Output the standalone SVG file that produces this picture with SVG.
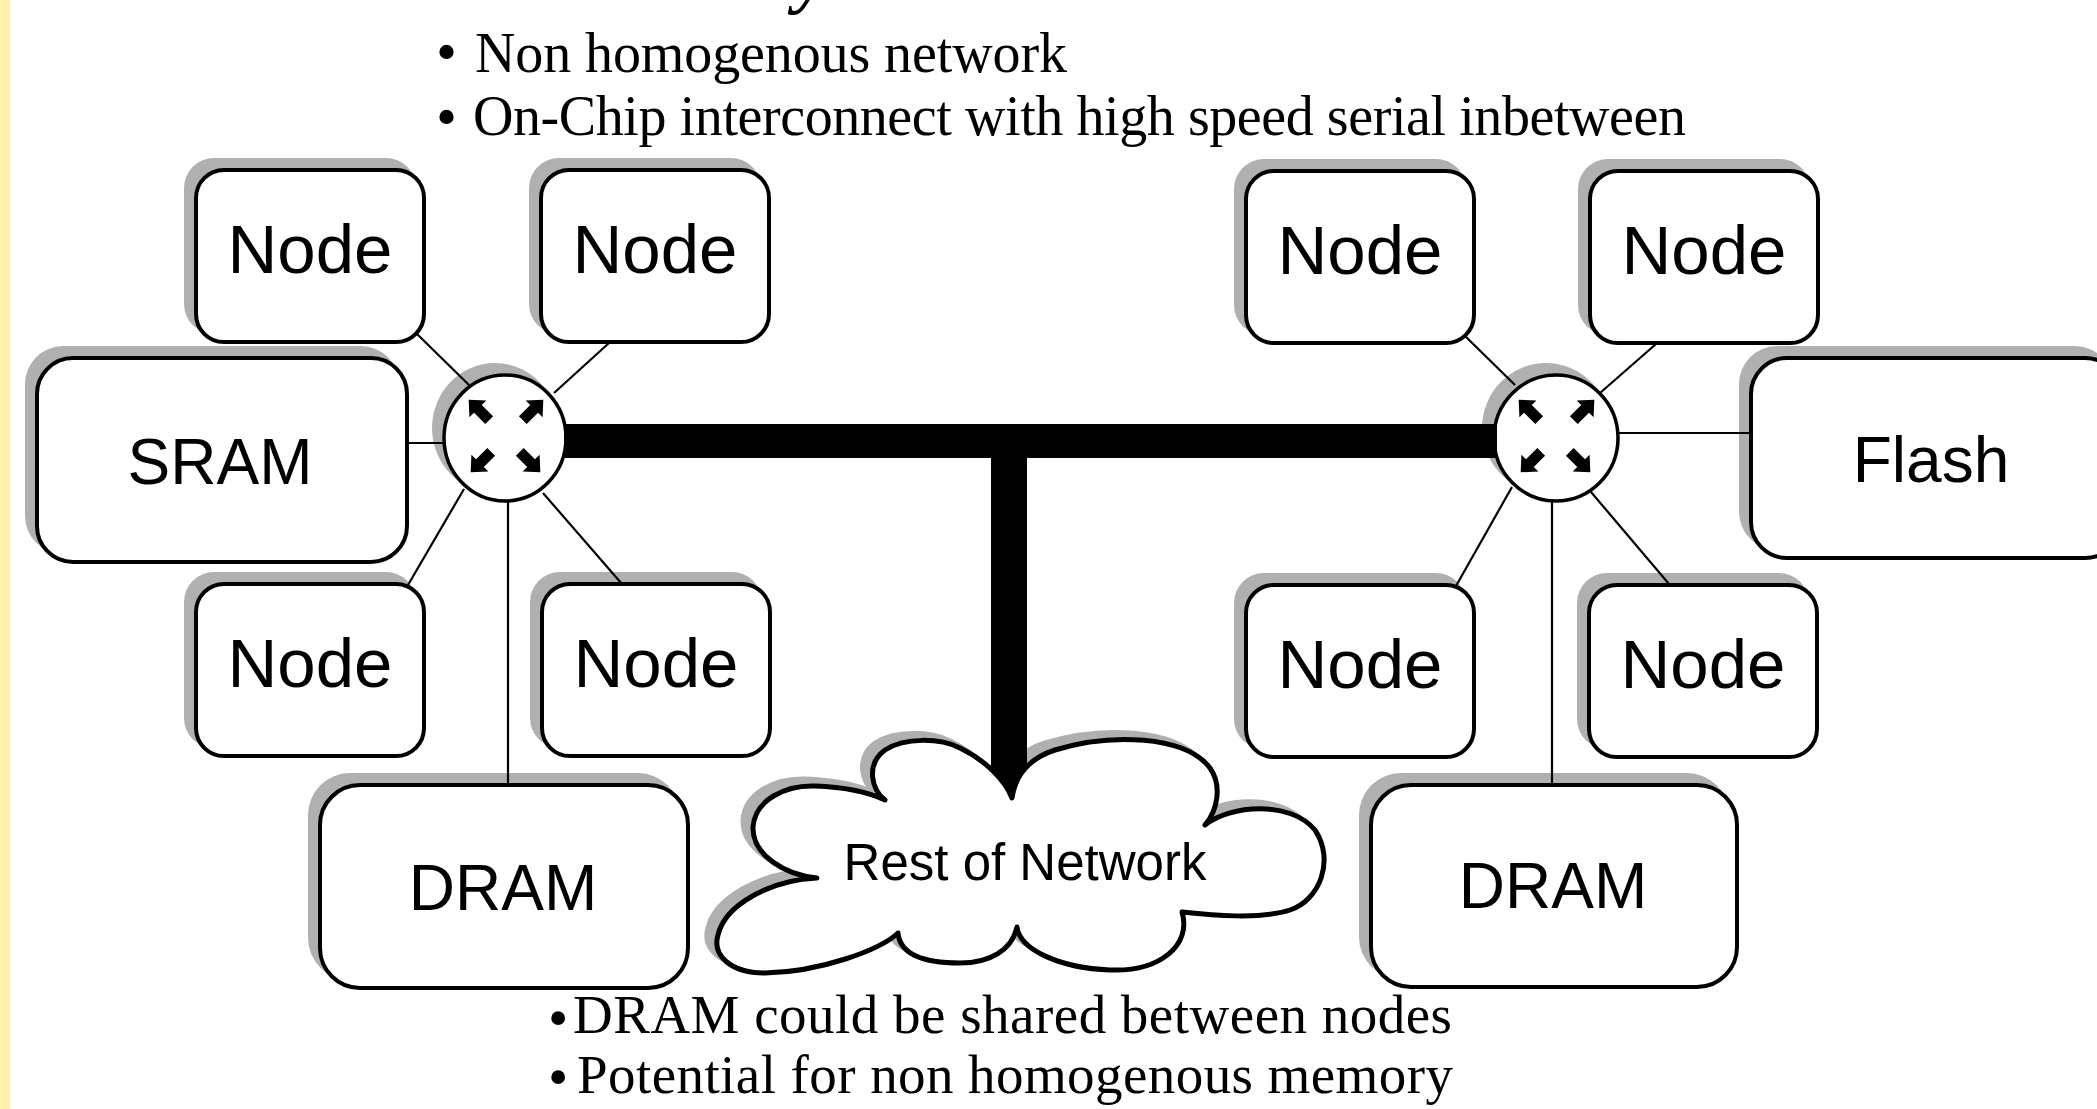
<svg xmlns="http://www.w3.org/2000/svg" width="2097" height="1109" viewBox="0 0 2097 1109">
<style>
.sh{fill:#b0b0b0}
.box{fill:#fff;stroke:#000;stroke-width:4}
.rt{fill:#fff;stroke:#000;stroke-width:3.5}
.lbl{font-family:"Liberation Sans",Arial,sans-serif;text-anchor:middle;fill:#000}
.ser{font-family:"Liberation Serif","Times New Roman",serif;fill:#000}
.ln{stroke:#000;stroke-width:2.2;fill:none}
</style>
<defs>
<path id="arr" d="M0,-16 L12,-3 L5.5,-3 L5.5,13 L-5.5,13 L-5.5,-3 L-12,-3 Z" fill="#000"/>
</defs>
<rect x="0" y="0" width="2097" height="1109" fill="#fff"/>
<rect x="0" y="0" width="10" height="1109" fill="#fff0aa"/>

<g id="title-text">
<text class="ser" x="795" y="0" font-size="72" font-style="italic" font-weight="bold">y</text>
<text class="ser" x="436" y="72" font-size="60">•</text>
<text class="ser" x="475" y="72" font-size="56" textLength="592" lengthAdjust="spacing">Non homogenous network</text>
<text class="ser" x="436" y="137" font-size="60">•</text>
<text class="ser" x="473" y="135" font-size="56" textLength="1213" lengthAdjust="spacing">On-Chip interconnect with high speed serial inbetween</text>
<text class="ser" x="548" y="1037" font-size="58">•</text>
<text class="ser" x="573" y="1033" font-size="55" textLength="879" lengthAdjust="spacing">DRAM could be shared between nodes</text>
<text class="ser" x="548" y="1096" font-size="58">•</text>
<text class="ser" x="577" y="1093" font-size="55" textLength="876" lengthAdjust="spacing">Potential for non homogenous memory</text>
</g>

<g id="node-l-tl"><rect class="sh" x="184" y="158" width="232" height="176" rx="30"/><rect class="box" x="196" y="170" width="228" height="172" rx="28"/><text class="lbl" x="310" y="273" font-size="69">Node</text></g>
<g id="node-l-tr"><rect class="sh" x="529" y="158" width="232" height="176" rx="30"/><rect class="box" x="541" y="170" width="228" height="172" rx="28"/><text class="lbl" x="655" y="273" font-size="69">Node</text></g>
<g id="node-l-bl"><rect class="sh" x="184" y="572" width="232" height="176" rx="30"/><rect class="box" x="196" y="584" width="228" height="172" rx="28"/><text class="lbl" x="310" y="687" font-size="69">Node</text></g>
<g id="node-l-br"><rect class="sh" x="530" y="572" width="232" height="176" rx="30"/><rect class="box" x="542" y="584" width="228" height="172" rx="28"/><text class="lbl" x="656" y="687" font-size="69">Node</text></g>
<g id="sram"><rect class="sh" x="25" y="346" width="374" height="208" rx="38"/><rect class="box" x="37" y="358" width="370" height="204" rx="36"/><text class="lbl" x="220" y="484" font-size="64">SRAM</text></g>
<g id="dram-l"><rect class="sh" x="308" y="773" width="372" height="207" rx="42"/><rect class="box" x="320" y="785" width="368" height="203" rx="40"/><text class="lbl" x="503" y="910" font-size="64">DRAM</text></g>

<g id="node-r-tl"><rect class="sh" x="1234" y="159" width="232" height="176" rx="30"/><rect class="box" x="1246" y="171" width="228" height="172" rx="28"/><text class="lbl" x="1360" y="274" font-size="69">Node</text></g>
<g id="node-r-tr"><rect class="sh" x="1578" y="159" width="232" height="176" rx="30"/><rect class="box" x="1590" y="171" width="228" height="172" rx="28"/><text class="lbl" x="1704" y="274" font-size="69">Node</text></g>
<g id="node-r-bl"><rect class="sh" x="1234" y="573" width="232" height="176" rx="30"/><rect class="box" x="1246" y="585" width="228" height="172" rx="28"/><text class="lbl" x="1360" y="688" font-size="69">Node</text></g>
<g id="node-r-br"><rect class="sh" x="1577" y="573" width="232" height="176" rx="30"/><rect class="box" x="1589" y="585" width="228" height="172" rx="28"/><text class="lbl" x="1703" y="688" font-size="69">Node</text></g>
<g id="flash"><rect class="sh" x="1739" y="346" width="374" height="204" rx="38"/><rect class="box" x="1751" y="358" width="370" height="200" rx="36"/><text class="lbl" x="1931" y="482" font-size="64">Flash</text></g>
<g id="dram-r"><rect class="sh" x="1359" y="773" width="370" height="206" rx="42"/><rect class="box" x="1371" y="785" width="366" height="202" rx="40"/><text class="lbl" x="1553" y="908" font-size="64">DRAM</text></g>

<g id="cloud">
<path class="sh" transform="translate(-10,-7)" stroke="#b0b0b0" stroke-width="5" d="M 1012 798 C 1015 775, 1030 758, 1055 750 C 1110 733, 1185 735, 1210 768 C 1222 785, 1218 810, 1205 825 C 1230 805, 1290 800, 1315 830 C 1335 860, 1320 900, 1290 910 C 1260 920, 1210 915, 1182 912 C 1192 945, 1160 972, 1110 970 C 1060 968, 1020 950, 1017 927 C 1012 950, 990 963, 960 963 C 925 963, 900 955, 898 933 C 880 950, 820 972, 765 973 C 730 973, 712 955, 718 935 C 725 905, 770 880, 817 878 C 785 875, 752 855, 753 827 C 755 800, 785 785, 815 786 C 845 787, 870 793, 885 800 C 872 790, 865 765, 885 750 C 905 737, 940 738, 960 748 C 985 760, 1005 780, 1012 798 Z"/>
<path fill="#fff" stroke="#000" stroke-width="5" stroke-linejoin="round" d="M 1012 798 C 1015 775, 1030 758, 1055 750 C 1110 733, 1185 735, 1210 768 C 1222 785, 1218 810, 1205 825 C 1230 805, 1290 800, 1315 830 C 1335 860, 1320 900, 1290 910 C 1260 920, 1210 915, 1182 912 C 1192 945, 1160 972, 1110 970 C 1060 968, 1020 950, 1017 927 C 1012 950, 990 963, 960 963 C 925 963, 900 955, 898 933 C 880 950, 820 972, 765 973 C 730 973, 712 955, 718 935 C 725 905, 770 880, 817 878 C 785 875, 752 855, 753 827 C 755 800, 785 785, 815 786 C 845 787, 870 793, 885 800 C 872 790, 865 765, 885 750 C 905 737, 940 738, 960 748 C 985 760, 1005 780, 1012 798 Z"/>
<text class="lbl" x="1025" y="880" font-size="51">Rest of Network</text>
</g>

<g id="router-l">
<ellipse class="sh" cx="495" cy="428" rx="63" ry="65"/>
<ellipse class="rt" cx="505" cy="438" rx="61" ry="63"/>
<use href="#arr" transform="translate(480,411) rotate(-45)"/>
<use href="#arr" transform="translate(532,411) rotate(45)"/>
<use href="#arr" transform="translate(482,461) rotate(-135)"/>
<use href="#arr" transform="translate(529,461) rotate(135)"/>
</g>
<g id="router-r">
<ellipse class="sh" cx="1546" cy="428" rx="64" ry="65"/>
<ellipse class="rt" cx="1556" cy="438" rx="62" ry="63"/>
<use href="#arr" transform="translate(1530,411) rotate(-45)"/>
<use href="#arr" transform="translate(1583,411) rotate(45)"/>
<use href="#arr" transform="translate(1532,461) rotate(-135)"/>
<use href="#arr" transform="translate(1579,461) rotate(135)"/>
</g>

<g id="connectors">
<line class="ln" x1="416" y1="333" x2="469" y2="385"/>
<line class="ln" x1="609" y1="343" x2="554" y2="393"/>
<line class="ln" x1="407" y1="443" x2="444" y2="443"/>
<line class="ln" x1="464" y1="489" x2="408" y2="585"/>
<line class="ln" x1="508" y1="502" x2="508" y2="785"/>
<line class="ln" x1="543" y1="493" x2="622" y2="584"/>
<line class="ln" x1="1464" y1="335" x2="1515" y2="385"/>
<line class="ln" x1="1656" y1="344" x2="1600" y2="393"/>
<line class="ln" x1="1616" y1="433" x2="1751" y2="433"/>
<line class="ln" x1="1512" y1="487" x2="1456" y2="586"/>
<line class="ln" x1="1552" y1="500" x2="1552" y2="785"/>
<line class="ln" x1="1591" y1="492" x2="1669" y2="584"/>
<rect x="564" y="424" width="933" height="34" fill="#000"/>
<polygon points="991,441 1027,441 1027,763 1012,798 991,766" fill="#000"/>
</g>
</svg>
